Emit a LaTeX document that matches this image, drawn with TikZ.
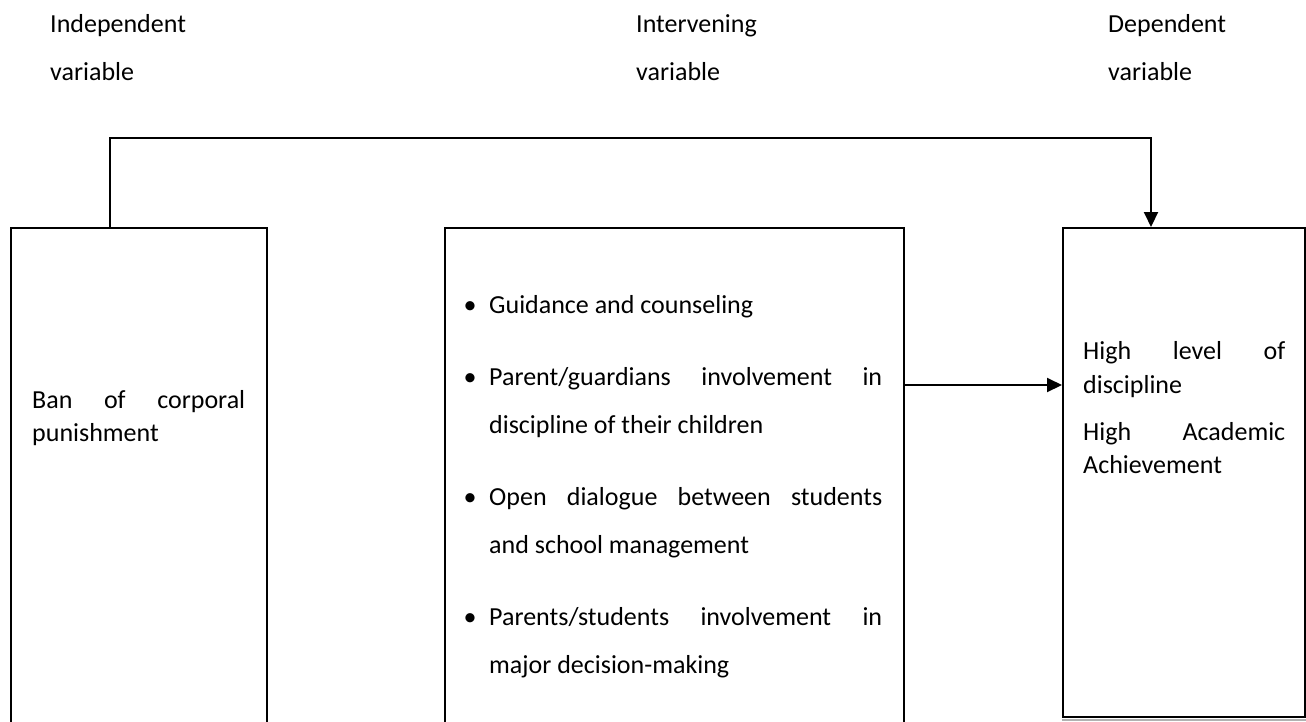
\documentclass[tikz,border=0pt]{standalone}
\usepackage{fontspec}
\setmainfont{Carlito}
\usetikzlibrary{arrows.meta}
\begin{document}
\begin{tikzpicture}[x=1pt,y=-1pt,
  box/.style={draw, line width=1.6pt, anchor=north west, inner sep=0pt},
  conn/.style={line width=2pt},
  tip/.style={-{Triangle[length=15pt,width=14pt]}},
  txt/.style={anchor=base west, inner sep=0pt, font=\fontsize{26}{31}\selectfont},
  bul/.style={anchor=base, inner sep=0pt, font=\fontsize{26}{31}\selectfont}]
\useasboundingbox (0,0) rectangle (1306,721);
\fill[white] (0,0) rectangle (1306,721);

% headings
\node[txt] (h1a) at (50,32) {Independent};
\node[txt] (h1b) at (50,80) {variable};
\node[txt] (h2a) at (636,32) {Intervening};
\node[txt] (h2b) at (636,80) {variable};
\node[txt] (h3a) at (1108,32) {Dependent};
\node[txt] (h3b) at (1108,80) {variable};

% boxes
\node[box, minimum width=256pt, minimum height=530pt] (lb) at (10,227) {};
\node[box, minimum width=459pt, minimum height=530pt] (mb) at (444,227) {};
\node[box, minimum width=242pt, minimum height=489pt] (rb) at (1062,227) {};
\draw[gray!60, line width=2pt] ([yshift=-2.6pt]rb.south west) -- ([yshift=-2.6pt]rb.south east);

% left box text
\node[txt] (l1) at (32,408) {\makebox[213pt][s]{Ban of corporal}};
\node[txt] (l2) at (32,441) {punishment};

% middle box text
\node[bul] (b1) at (470,313) {•};
\node[txt] (m1) at (489,313) {Guidance and counseling};
\node[bul] (b2) at (470,385) {•};
\node[txt] (m2) at (489,385) {\makebox[393pt][s]{Parent/guardians involvement in}};
\node[txt] (m3) at (489,433) {discipline of their children};
\node[bul] (b3) at (470,505) {•};
\node[txt] (m4) at (489,505) {\makebox[393pt][s]{Open dialogue between students}};
\node[txt] (m5) at (489,553) {and school management};
\node[bul] (b4) at (470,625) {•};
\node[txt] (m6) at (489,625) {\makebox[393pt][s]{Parents/students involvement in}};
\node[txt] (m7) at (489,673) {major decision-making};

% right box text
\node[txt] (r1) at (1083,359) {\makebox[202pt][s]{High level of}};
\node[txt] (r2) at (1083,393) {discipline};
\node[txt] (r3) at (1083,440) {\makebox[202pt][s]{High Academic}};
\node[txt] (r4) at (1083,473) {Achievement};

% connectors
\draw[conn, tip] ([xshift=100pt]lb.north west) -- ++(0,-89) -| ([xshift=89pt]rb.north west);
\draw[conn, tip] ([yshift=-158pt]mb.north east) -- ([yshift=-158pt]rb.north west);
\end{tikzpicture}
\end{document}
